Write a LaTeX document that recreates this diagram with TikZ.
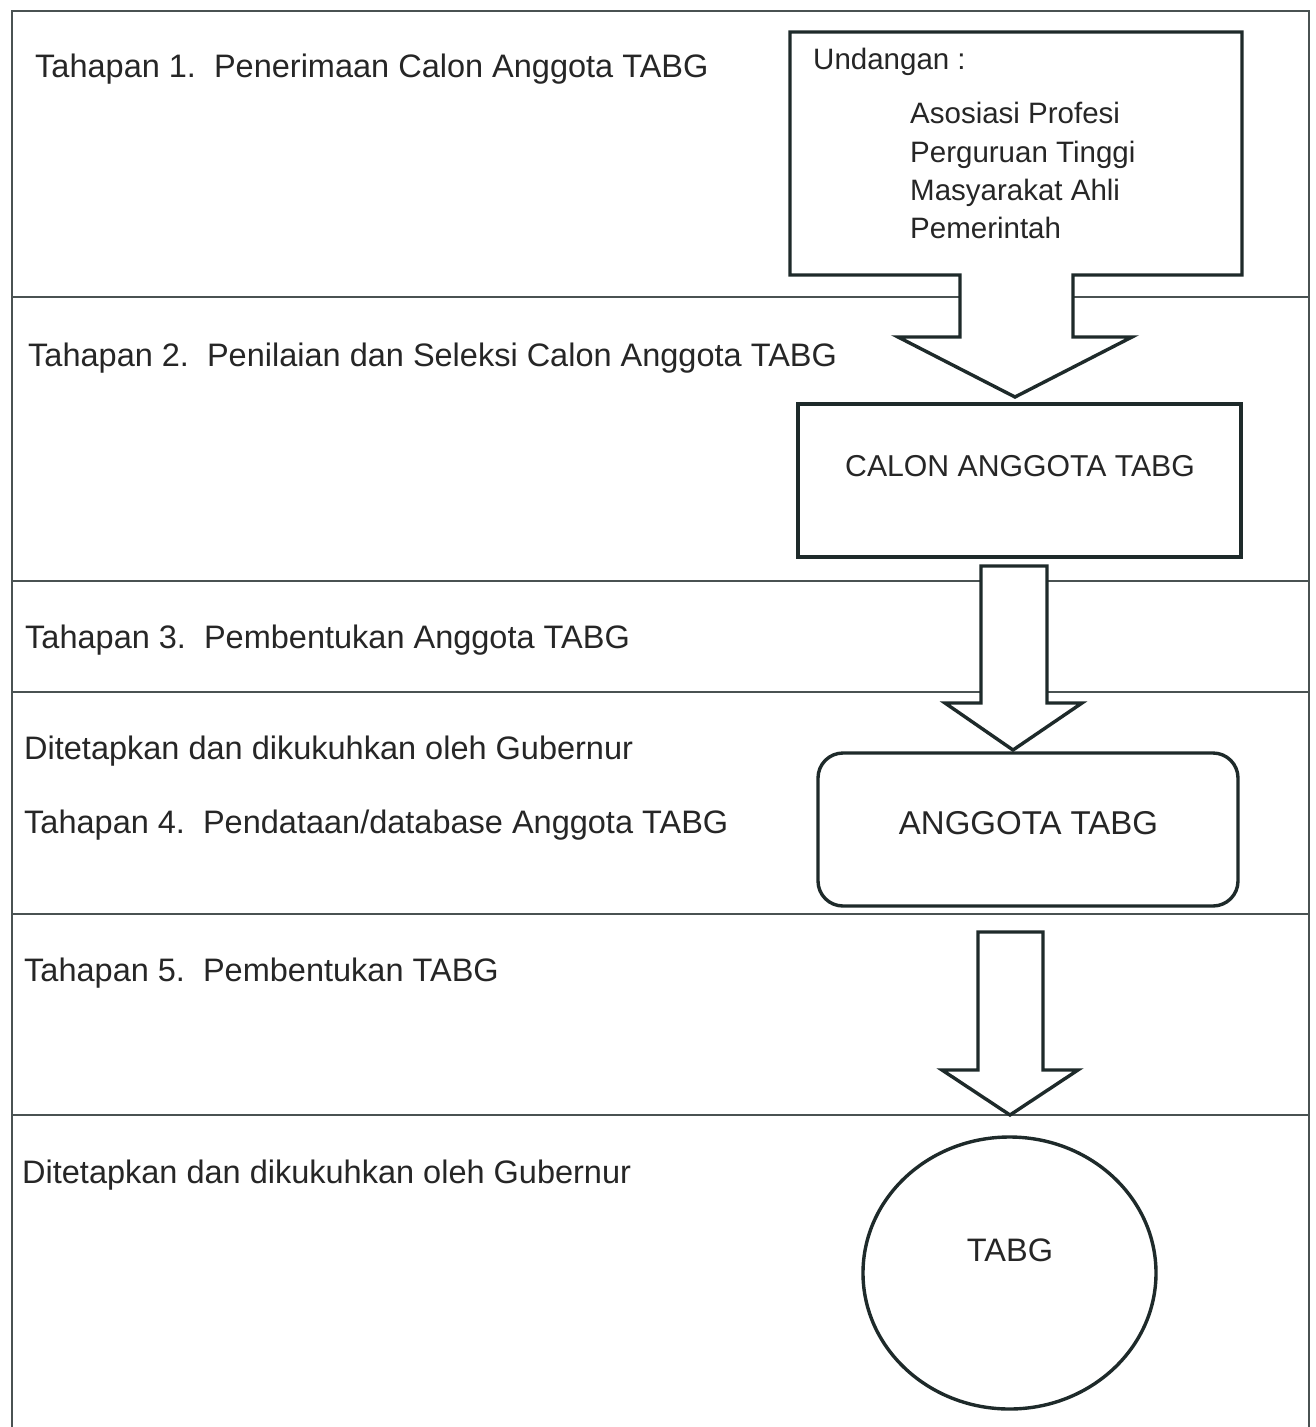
\documentclass[tikz,border=0pt]{standalone}
\usepackage{fontspec}
\setmainfont{Liberation Sans}
\usetikzlibrary{shapes.geometric}
\definecolor{ink}{HTML}{1E2A2A}
\definecolor{rule}{HTML}{4A5252}
\definecolor{txt}{HTML}{262626}
\tikzset{
  framerule/.style={draw=rule, line width=1.6pt},
  shapeline/.style={draw=ink, line width=3.4pt, fill=white, line join=miter},
  stagetext/.style={anchor=base west, inner sep=0pt, text=txt, font=\fontsize{32.5}{38}\selectfont},
  boxtext/.style={inner sep=0pt, text=txt, font=\fontsize{29.5}{36}\selectfont},
}
\begin{document}
\begin{tikzpicture}[x=1pt,y=-1pt]
\useasboundingbox (0,0) rectangle (1315,1427);
\fill[white] (0,0) rectangle (1315,1427);
% frame and stage dividers
\draw[framerule] (12,1427) -- (12,11) -- (1309,11) -- (1309,1427);
\foreach \yy in {297,581,692,914,1115}
  \draw[framerule] (12,\yy) -- (1309,\yy);
% stage labels
\node[stagetext] (t1) at (35,77) {Tahapan 1.\ \ Penerimaan Calon Anggota TABG};
\node[stagetext] (t2) at (28,366) {Tahapan 2.\ \ Penilaian dan Seleksi Calon Anggota TABG};
\node[stagetext] (t3) at (25,648) {Tahapan 3.\ \ Pembentukan Anggota TABG};
\node[stagetext] (d1) at (24,759) {Ditetapkan dan dikukuhkan oleh Gubernur};
\node[stagetext] (t4) at (24,833) {Tahapan 4.\ \ Pendataan/database Anggota TABG};
\node[stagetext] (t5) at (24,981) {Tahapan 5.\ \ Pembentukan TABG};
\node[stagetext] (d2) at (22,1183) {Ditetapkan dan dikukuhkan oleh Gubernur};
% callout box with arrow (Undangan)
\draw[shapeline] (790,32) -- (1242,32) -- (1242,275) -- (1073,275) -- (1073,337)
  -- (1132,337) -- (1015,397) -- (898,337) -- (960,337) -- (960,275) -- (790,275) -- cycle;
\coordinate (undtip) at (1015,397);
\node[boxtext, anchor=base west] (und) at (813,69) {Undangan :};
\node[boxtext, anchor=base west] (u1) at (910,123) {Asosiasi Profesi};
\node[boxtext, anchor=base west] (u2) at (910,162) {Perguruan Tinggi};
\node[boxtext, anchor=base west] (u3) at (910,200) {Masyarakat Ahli};
\node[boxtext, anchor=base west] (u4) at (910,238) {Pemerintah};
% calon box
\node[shapeline, rectangle, minimum width=443pt, minimum height=153pt, inner sep=0pt] (calon) at (1019.5,480.5) {};
\node[boxtext, font=\fontsize{30.2}{36}\selectfont, anchor=base] (calontxt) at (1020,476) {CALON ANGGOTA TABG};
% anggota rounded box
\node[shapeline, rectangle, rounded corners=25pt, minimum width=420pt, minimum height=153pt, inner sep=0pt] (anggota) at (1028,829.5) {};
\node[boxtext, font=\fontsize{33}{38}\selectfont, anchor=base] (anggotatxt) at (1028.5,834) {ANGGOTA TABG};
% TABG ellipse
\node[shapeline, ellipse, minimum width=293pt, minimum height=272pt, inner sep=0pt] (tabg) at (1009.5,1273) {};
\node[boxtext, font=\fontsize{32.5}{38}\selectfont, anchor=base] (tabgtxt) at (1010,1261) {TABG};
% block arrows
\draw[shapeline] (981,566) -- (1047,566) -- (1047,703) -- (1082,703) -- (1013,750)
  -- (945,703) -- (981,703) -- cycle;
\draw[shapeline] (978,932) -- (1043,932) -- (1043,1070) -- (1078,1070) -- (1010,1115)
  -- (942,1070) -- (978,1070) -- cycle;
\end{tikzpicture}
\end{document}
